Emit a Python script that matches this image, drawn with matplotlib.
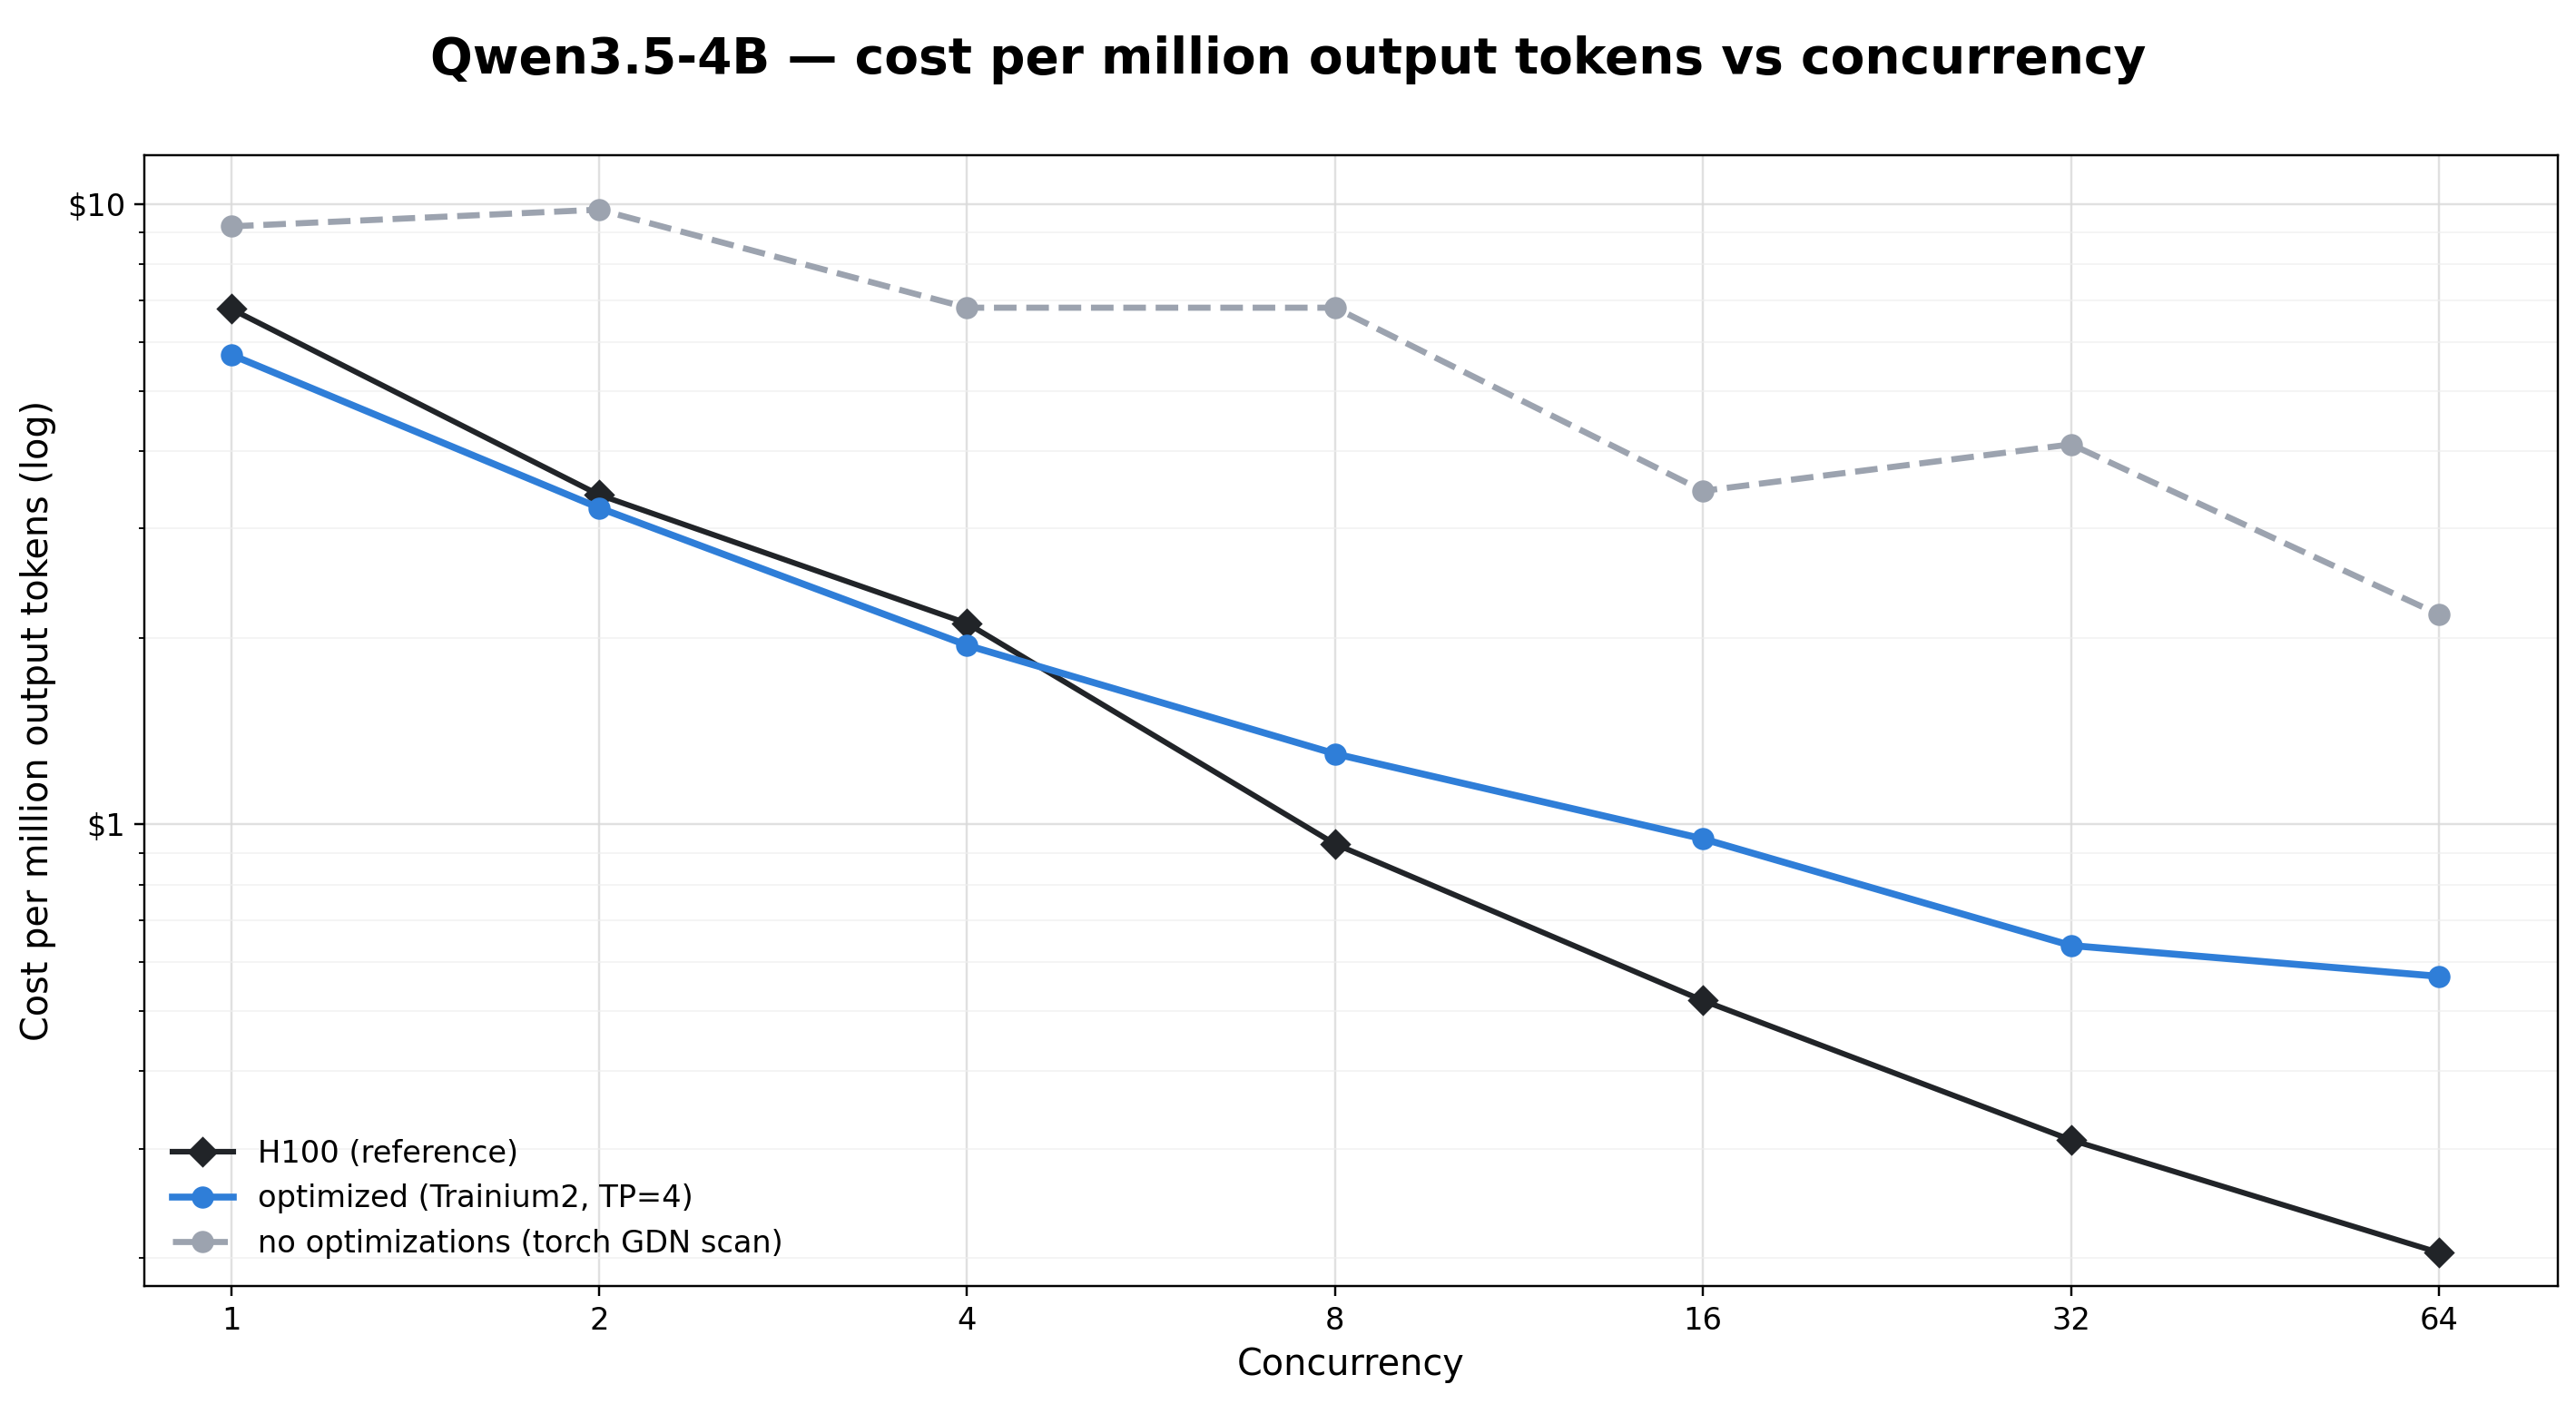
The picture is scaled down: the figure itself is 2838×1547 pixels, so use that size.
import matplotlib.pyplot as plt
from matplotlib.ticker import FixedLocator, FuncFormatter, NullFormatter

# cost per million output tokens ($) by concurrency
concurrency = [1, 2, 4, 8, 16, 32, 64]
h100 = [6.78, 3.40, 2.11, 0.93, 0.52, 0.31, 0.204]
optimized = [5.72, 3.24, 1.945, 1.30, 0.948, 0.638, 0.569]
no_opt = [9.21, 9.80, 6.81, 6.81, 3.45, 4.10, 2.18]

fig, ax = plt.subplots(figsize=(12.9, 7.032), dpi=220)
fig.subplots_adjust(left=0.0562, right=0.9928, top=0.8895, bottom=0.0838)

ax.plot(concurrency, h100, color='#212428', marker='D', markersize=7,
        linewidth=2.0, label='H100 (reference)', zorder=3)
ax.plot(concurrency, optimized, color='#2f7ed8', marker='o', markersize=7,
        linewidth=2.5, label='optimized (Trainium2, TP=4)', zorder=3)
ax.plot(concurrency, no_opt, color='#9ca3af', marker='o', markersize=7,
        linewidth=2.2, linestyle='--', label='no optimizations (torch GDN scan)', zorder=2)

ax.set_xscale('log', base=2)
ax.set_yscale('log')
ax.set_xlim(0.85, 80)
ax.set_ylim(0.18, 12)

ax.xaxis.set_major_locator(FixedLocator(concurrency))
ax.xaxis.set_major_formatter(FuncFormatter(lambda v, p: f'{int(v)}'))
ax.xaxis.set_minor_locator(FixedLocator([]))
ax.yaxis.set_major_formatter(FuncFormatter(lambda v, p: f'${v:g}'))
ax.yaxis.set_minor_formatter(NullFormatter())
ax.tick_params(labelsize=11)

ax.grid(True, which='major', color='#d9d9d9', linewidth=0.8, alpha=0.8)
ax.grid(True, which='minor', axis='y', color='#eeeeee', linewidth=0.6, alpha=0.7)

ax.set_xlabel('Concurrency', fontsize=13)
ax.set_ylabel('Cost per million output tokens (log)', fontsize=13)
fig.suptitle('Qwen3.5-4B — cost per million output tokens vs concurrency',
             fontsize=18, fontweight='bold', y=0.975)

ax.legend(loc='lower left', frameon=False, fontsize=11)

fig.savefig('out.png', dpi=220)
